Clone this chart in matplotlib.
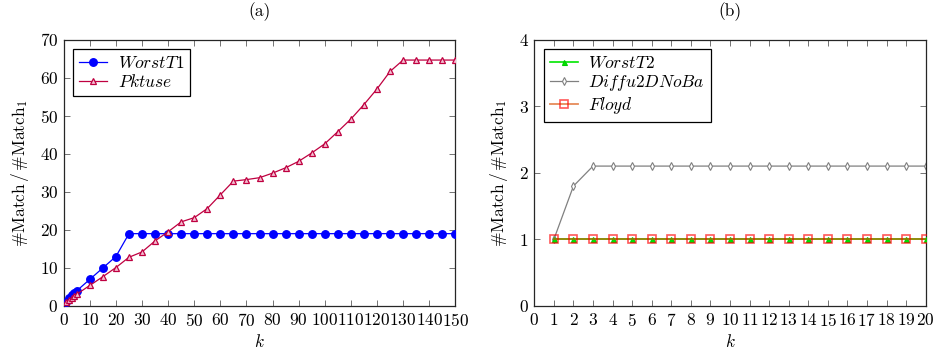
import matplotlib
matplotlib.use("Agg")
import matplotlib.pyplot as plt

# ---------------- data ----------------
k_a = [1, 2, 3, 4, 5, 10, 15, 20, 25, 30, 35, 40, 45, 50, 55, 60, 65, 70, 75,
       80, 85, 90, 95, 100, 105, 110, 115, 120, 125, 130, 135, 140, 145, 150]
worst_t1 = [1, 2, 3, 3.5, 4, 7, 10, 13, 19, 19, 19, 19, 19, 19, 19, 19, 19, 19, 19,
            19, 19, 19, 19, 19, 19, 19, 19, 19, 19, 19, 19, 19, 19, 19]
pktuse = [1, 1.6, 2.1, 2.6, 3.1, 5.4, 7.7, 10.1, 12.8, 14.2, 17.1, 19.5, 22.1, 23.2,
          25.6, 29.2, 32.8, 33.2, 33.7, 34.9, 36.3, 38.0, 40.2, 42.6, 45.8, 49.1,
          52.9, 57.0, 61.6, 64.6, 64.6, 64.6, 64.6, 64.6]

k_b = [1, 2, 3, 4, 5, 6, 7, 8, 9, 10, 11, 12, 13, 14, 15, 16, 17, 18, 19, 20]
worst_t2 = [1, 1, 1, 1, 1, 1, 1, 1, 1, 1, 1, 1, 1, 1, 1, 1, 1, 1, 1, 1]
diffu = [1, 1.8, 2.1, 2.1, 2.1, 2.1, 2.1, 2.1, 2.1, 2.1, 2.1, 2.1, 2.1, 2.1, 2.1,
         2.1, 2.1, 2.1, 2.1, 2.1]
floyd = [1, 1, 1, 1, 1, 1, 1, 1, 1, 1, 1, 1, 1, 1, 1, 1, 1, 1, 1, 1]

xticks_a = list(range(0, 151, 10))
yticks_a = list(range(0, 71, 10))
xticks_b = list(range(0, 21, 1))
yticks_b = list(range(0, 5, 1))

# ---------------- style ----------------
plt.rcParams['font.family'] = ['serif']
plt.rcParams['font.serif'] = ['cmr10', 'DejaVu Serif']
plt.rcParams['mathtext.fontset'] = 'cm'
plt.rcParams['axes.formatter.use_mathtext'] = True
plt.rcParams['axes.unicode_minus'] = False

FS = 12.5
fig = plt.figure(figsize=(9.37, 3.52), dpi=100)
ax1 = fig.add_axes([63.7 / 937, 1 - 306 / 352, (455.3 - 63.7) / 937, (306 - 39.5) / 352])
ax2 = fig.add_axes([534.3 / 937, 1 - 306 / 352, (925.7 - 534.3) / 937, (306 - 39.5) / 352])

purple = (0.75, 0.0, 0.25)

ax1.plot(k_a, worst_t1, color='blue', lw=0.9, marker='o', ms=5.4,
         markerfacecolor='blue', markeredgecolor='blue', label=r'$WorstT1$', zorder=3)
ax1.plot(k_a, pktuse, color=purple, lw=0.9, marker='^', ms=4.6, mew=0.9,
         markerfacecolor=(0.95, 0.75, 0.82), markeredgecolor=purple,
         label=r'$Pktuse$', zorder=4)

ax2.plot(k_b, worst_t2, color=(0, 0.9, 0), lw=1.2, marker='^', ms=3.6, mew=0.8,
         markerfacecolor=(0, 0.9, 0), markeredgecolor=(0, 0.8, 0), label=r'$WorstT2$', zorder=3)
ax2.plot(k_b, diffu, color='gray', lw=0.9, marker='d', ms=4.0, mew=0.8,
         markerfacecolor='white', markeredgecolor='gray', label=r'$Diffu2DNoBa$', zorder=2)
ax2.plot(k_b, floyd, color=(0.85, 0.3, 0.0), lw=1.3, alpha=0.65, marker='s', ms=5.6, mew=1.2,
         markerfacecolor='none', markeredgecolor='red', label=r'$Floyd$', zorder=4)

for ax, xt, yt, xl, yl, title in [
        (ax1, xticks_a, yticks_a, (0, 150), (0, 70), '(a)'),
        (ax2, xticks_b, yticks_b, (0, 20), (0, 4), '(b)')]:
    ax.set_xlim(*xl)
    ax.set_ylim(*yl)
    ax.set_xticks(xt)
    ax.set_yticks(yt)
    ax.tick_params(direction='in', top=True, right=True, length=4, width=0.7,
                   color='0.45', labelsize=FS, pad=4)
    for s in ax.spines.values():
        s.set_linewidth(0.9)
        s.set_color('0.15')
    ax.set_xlabel(r'$k$', fontsize=FS, labelpad=3)
    ax.set_ylabel(r'#Match$\,$/$\,$#Match$_1$', fontsize=FS, labelpad=6)
    ax.set_title(title, fontsize=FS, pad=17)
    leg = ax.legend(loc='upper left', fontsize=12.5, frameon=True, fancybox=False,
                    edgecolor='black', framealpha=1, borderpad=0.35,
                    handlelength=1.6, handletextpad=0.6, labelspacing=0.1,
                    borderaxespad=0.55)
    leg.get_frame().set_linewidth(0.9)

fig.savefig('out.png', dpi=100)
